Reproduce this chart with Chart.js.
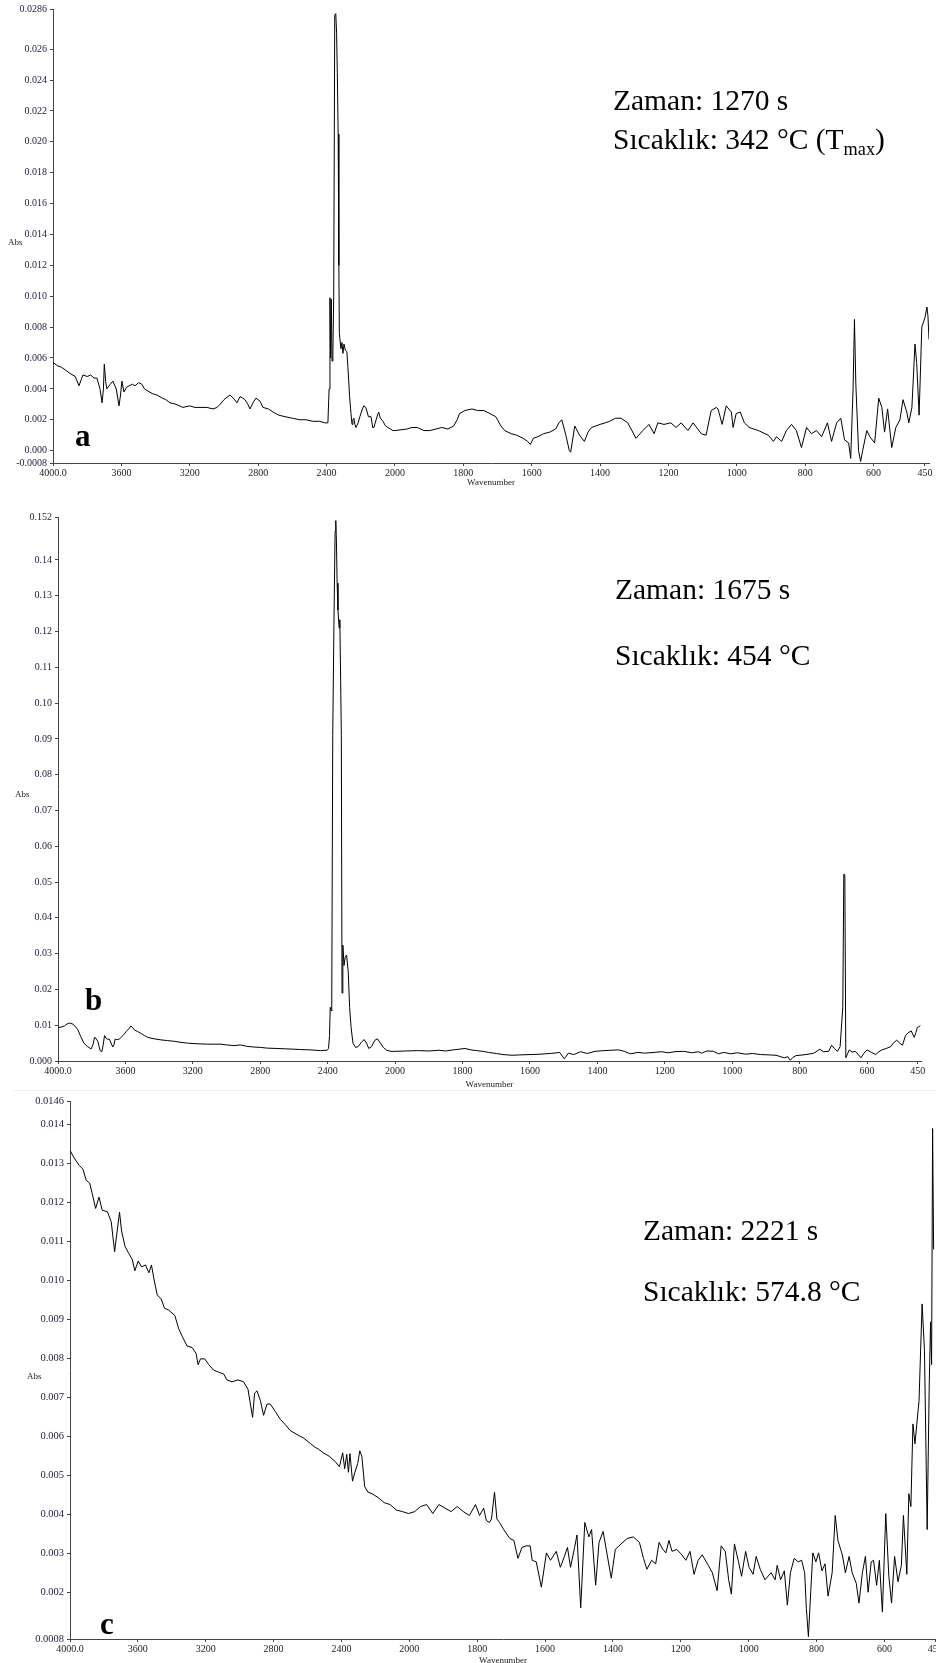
<!DOCTYPE html>
<html>
<head>
<meta charset="utf-8">
<script src="https://cdn.jsdelivr.net/npm/chart.js@4.4.0/dist/chart.umd.min.js"></script>
<style>
  html, body { margin: 0; padding: 0; background: #fff; }
  #page { position: relative; width: 936px; height: 1663px; overflow: hidden; }
  canvas { position: absolute; left: 0; }
  .note { position: absolute; font-family: "Liberation Serif", "Times New Roman", serif; font-size: 29.5px; line-height: 1; white-space: nowrap; color: #000; }
  .sub { font-size: 0.62em; position: relative; top: 0.32em; }
  .tag { position: absolute; font-family: "Liberation Serif", "Times New Roman", serif; font-weight: bold; font-size: 31px; line-height: 1; }
  .abs { position: absolute; font-family: "Liberation Serif", "Times New Roman", serif; font-size: 9px; line-height: 1; color: #222; }
  .sep { position: absolute; left: 14px; top: 1090px; width: 922px; height: 1px; background: #eee; }
</style>
</head>
<body>
<div id="page">
  <canvas id="chartA" width="936" height="490" style="top:0px"></canvas>
  <canvas id="chartB" width="936" height="602" style="top:490px"></canvas>
  <canvas id="chartC" width="950" height="576" style="top:1092px"></canvas>
  <div class="sep"></div>

  <div class="abs" style="left:8px; top:238px">Abs</div>
  <div class="abs" style="left:15px; top:790px">Abs</div>
  <div class="abs" style="left:27px; top:1372px">Abs</div>

  <div class="tag" style="left:75px; top:420px">a</div>
  <div class="tag" style="left:85px; top:984px">b</div>
  <div class="tag" style="left:100px; top:1608px">c</div>

  <div class="note" style="left:613px; top:86px">Zaman: 1270 s</div>
  <div class="note" style="left:613px; top:125px">Sıcaklık: 342 °C (T<span class="sub">max</span>)</div>
  <div class="note" style="left:615px; top:575px">Zaman: 1675 s</div>
  <div class="note" style="left:615px; top:641px">Sıcaklık: 454 °C</div>
  <div class="note" style="left:643px; top:1216px">Zaman: 2221 s</div>
  <div class="note" style="left:643px; top:1277px">Sıcaklık: 574.8 °C</div>
</div>

<script>
// x tick labels (wavenumber, cm-1), shared by the three spectra
var xTickLabels = ['4000.0','3600','3200','2800','2400','2000','1800','1600','1400','1200','1000','800','600','450'];

// spectrum a  (1270 s, 342 C)
var aWave = [4000,3975,3950,3925,3900,3870,3848,3835,3825,3800,3780,3760,3743,3725,3713,3705,3700,3692,3685,3665,3650,3630,3614,3605,3597,3585,3570,3555,3535,3520,3500,3480,3465,3451,3420,3392,3360,3340,3316,3280,3240,3200,3170,3140,3100,3064,3040,3023,3000,2965,2945,2924,2906,2890,2877,2860,2848,2830,2813,2789,2772,2740,2713,2680,2643,2600,2556,2520,2480,2440,2410,2392,
  2385,2380,2376,2372,2368,2363,2358,2352,2346,2341,2337,2332,2328,2325,2316,2310,2304,2298,2290,2281,2275,2265,2257,2251,2246,2240,2234,2228,2215,2205,2190,2182,2170,2155,2140,2130,2123,2110,2099,2095,2085,2070,2055,2042,2025,2012,2000,
  1965,1950,1935,1915,1898,1880,1863,1845,1828,1818,1811,1795,1775,1758,1740,1722,1705,1690,1679,1660,1644,1625,1612,1604,1595,1582,1565,1547,1530,1520,1512,1500,1490,1486,1474,1460,1446,1435,1425,1400,1385,1372,1355,1339,
  1319,1295,1275,1257,1242,1231,1213,1193,1178,1163,1143,1128,1104,1090,1075,1060,1055,1043,1031,1016,1011,1002,990,978,964,937,908,893,884,869,855,840,826,811,796,782,767,752,735,723,708,696,685,673,667,660,656,652,644,638,632,620,611,597,585,576,568,559,547,535,523,514,503,497,488,479,474,467,459,450,444,441,438];
var aAbs = [0.00572,0.0055,0.0054,0.0052,0.0050,0.0048,0.0042,0.0046,0.0049,0.0048,0.0049,0.0047,0.0047,0.0040,0.0031,0.0040,0.0056,0.0045,0.0040,0.0043,0.0045,0.0040,0.0029,0.0036,0.0045,0.0038,0.0041,0.0042,0.0043,0.0042,0.0044,0.0043,0.0040,0.0039,0.0037,0.0036,0.0034,0.0033,0.0031,0.0030,0.0028,0.0029,0.0028,0.0028,0.0028,0.0027,0.0028,0.0030,0.0033,0.0036,0.0034,0.0031,0.0035,0.0034,0.0033,0.0030,0.0027,0.0031,0.0034,0.0032,0.0028,0.0027,0.0025,0.0023,0.0022,0.0021,0.0020,0.0020,0.0019,0.0019,0.0018,0.0018,
  0.0040,0.0099,0.0060,0.0098,0.0058,0.0062,0.0100,0.0282,0.0283,0.0270,0.0245,0.0205,0.0120,0.0076,0.0066,0.0070,0.0063,0.0069,0.0065,0.0064,0.0054,0.0035,0.0024,0.0017,0.0020,0.0021,0.0017,0.0015,0.0018,0.0022,0.0027,0.0029,0.0028,0.0022,0.0022,0.0015,0.0015,0.0020,0.0024,0.0025,0.0021,0.0019,0.0016,0.0015,0.0014,0.0013,0.0013,
  0.0014,0.0015,0.0015,0.0013,0.0013,0.0014,0.0015,0.0014,0.0016,0.0020,0.0024,0.0026,0.0027,0.0026,0.0026,0.0024,0.0022,0.0016,0.0013,0.0011,0.0010,0.0008,0.0006,0.0004,0.0008,0.0009,0.0011,0.0012,0.0014,0.0018,0.0020,0.0010,0.0000,-0.0001,0.0016,0.0010,0.0006,0.0012,0.0015,0.0017,0.0018,0.0019,0.0021,0.0021,
  0.0018,0.0008,0.0013,0.0017,0.0011,0.0018,0.0017,0.0018,0.0015,0.0018,0.0013,0.0018,0.0011,0.0010,0.0026,0.0028,0.0027,0.0017,0.0029,0.0025,0.0015,0.0024,0.0025,0.0018,0.0015,0.0013,0.0010,0.0006,0.0009,0.0006,0.0013,0.0017,0.0013,0.0002,0.0015,0.0011,0.0013,0.0009,0.0018,0.0006,0.0018,0.0021,0.0007,0.0005,-0.0005,0.0040,0.0085,0.0043,0.0000,-0.0007,0.0000,0.0013,0.0009,0.0005,0.0034,0.0028,0.0012,0.0027,0.0002,0.0015,0.0020,0.0033,0.0025,0.0018,0.0028,0.0069,0.0057,0.0023,0.0080,0.0086,0.0093,0.0087,0.0072];
var aYLabels = ['-0.0008','0.000','0.002','0.004','0.006','0.008','0.010','0.012','0.014','0.016','0.018','0.020','0.022','0.024','0.026','0.0286'];

// spectrum b  (1675 s, 454 C)
var bWave = [4000,3980,3961,3945,3931,3911,3895,3882,3865,3846,3825,3803,3793,3783,3774,3764,3756,3750,3740,3732,3724,3716,3708,3695,3685,3675,3668,3661,3648,3636,3626,3616,3606,3596,3580,3567,3557,3547,3527,3507,3487,3468,3430,3389,3350,3310,3270,3232,3170,3113,3070,3034,3000,2956,2917,2880,2838,2800,2759,2700,2650,2600,2562,2500,2443,2403,
  2395,2389,2385,2380,2376,2370,2363,2356,2352,2348,2344,2339,2332,2328,2323,2319,2315,2310,2303,2296,2288,2278,2270,2261,2250,2235,2220,2200,2184,2170,2156,2140,2120,2105,2090,2070,2050,2025,2000,
  1970,1933,1900,1870,1850,1828,1810,1793,1775,1758,1740,1723,1700,1680,1653,1630,1600,1570,1540,1520,1512,1498,1486,1470,1450,1430,1407,1380,1360,1337,1320,1302,1280,1260,1232,1210,1190,1170,1144,1120,1100,1091,1075,1056,1040,1025,1004,985,960,940,916,890,870,846,835,828,820,811,790,775,758,748,740,730,714,705,697,688,680,672,669,666,663,658,653,644,635,626,618,609,600,587,574,565,556,543,530,520,512,503,495,486,478,469,460,455,451,446,442];
var bAbs = [0.0093,0.0095,0.0098,0.0104,0.0106,0.0103,0.0095,0.0087,0.0068,0.0050,0.0040,0.0034,0.0045,0.0066,0.0063,0.0055,0.0040,0.0029,0.0026,0.0045,0.0071,0.0064,0.0061,0.0061,0.0050,0.0039,0.0045,0.0061,0.0060,0.0061,0.0066,0.0071,0.0076,0.0082,0.0090,0.0098,0.0093,0.0087,0.0082,0.0077,0.0071,0.0066,0.0062,0.0059,0.0057,0.0055,0.0052,0.0050,0.0048,0.0047,0.0047,0.0047,0.0045,0.0043,0.0045,0.0041,0.0039,0.0038,0.0036,0.0035,0.0034,0.0033,0.0032,0.0031,0.0029,0.0030,
  0.0035,0.0071,0.0150,0.0142,0.0140,0.0910,0.1220,0.1480,0.1510,0.1450,0.1335,0.1260,0.1210,0.1233,0.1060,0.0910,0.0190,0.0324,0.0267,0.0290,0.0296,0.0249,0.0150,0.0093,0.0050,0.0038,0.0040,0.0052,0.0060,0.0050,0.0035,0.0040,0.0058,0.0062,0.0052,0.0038,0.0030,0.0027,0.0027,
  0.0028,0.0029,0.0028,0.0030,0.0028,0.0031,0.0033,0.0035,0.0031,0.0029,0.0027,0.0024,0.0021,0.0018,0.0016,0.0017,0.0018,0.0019,0.0021,0.0023,0.0024,0.0006,0.0022,0.0018,0.0026,0.0021,0.0027,0.0029,0.0030,0.0031,0.0027,0.0020,0.0024,0.0022,0.0024,0.0026,0.0023,0.0026,0.0027,0.0023,0.0026,0.0022,0.0028,0.0027,0.0020,0.0024,0.0020,0.0023,0.0019,0.0021,0.0018,0.0017,0.0016,0.0009,0.0012,0.0002,0.0010,0.0015,0.0017,0.0019,0.0022,0.0028,0.0033,0.0026,0.0027,0.0044,0.0035,0.0027,0.0040,0.0150,0.0522,0.0520,0.0009,0.0020,0.0031,0.0025,0.0027,0.0018,0.0009,0.0022,0.0031,0.0024,0.0018,0.0026,0.0031,0.0035,0.0040,0.0052,0.0058,0.0050,0.0044,0.0071,0.0079,0.0084,0.0066,0.0080,0.0093,0.0096,0.0099];
var bYLabels = ['0.000','0.01','0.02','0.03','0.04','0.05','0.06','0.07','0.08','0.09','0.10','0.11','0.12','0.13','0.14','0.152'];

// spectrum c  (2221 s, 574.8 C)
var cWave = [4000,3976,3947,3924,3904,3884,3869,3849,3829,3810,3780,3757,3737,3722,3708,3696,3676,3653,3633,3618,3598,3578,3555,3535,3520,3504,3486,3463,3443,3418,3382,3359,3339,3310,3280,3257,3245,3231,3206,3182,3153,3124,3094,3075,3045,3010,2977,2951,2937,2924,2912,2898,2878,2859,2839,2820,2790,2761,2731,2702,2663,2624,2584,2555,2535,2508,2472,2436,2412,2393,2381,2369,2359,2350,2335,2321,2304,2292,2280,2263,2244,2220,2184,2148,2113,2077,2041,2005,
  1984,1967,1949,1931,1913,1895,1877,1859,1841,1823,1805,1793,1781,1773,1764,1758,1749,1742,1734,1722,1704,1692,1680,1668,1656,1644,1638,1626,1611,1596,1584,1567,1555,1543,1534,1525,1513,1506,1495,1483,1471,1463,1451,1441,1429,1417,1405,1393,1376,1358,1340,1322,1310,1300,1286,1274,1264,1253,1244,1235,1226,1212,1197,1185,1173,1161,1149,1137,1119,1107,1093,1081,1069,1059,1051,1042,1030,1021,1009,999,987,978,966,952,934,922,916,906,895,886,877,866,854,844,835,830,824,817,811,802,794,784,775,766,754,745,737,724,715,704,695,683,675,665,656,648,639,632,623,615,606,596,587,579,570,560,550,544,534,528,522,516,510,498,489,482,474,468,464,461,458,455];
var cAbs = [0.01334,0.01315,0.01296,0.01286,0.01257,0.0125,0.01223,0.01185,0.01214,0.0118,0.01177,0.01151,0.01074,0.01127,0.01175,0.01127,0.01088,0.01069,0.01054,0.01025,0.0105,0.01035,0.0104,0.0102,0.0104,0.01001,0.00963,0.00953,0.00929,0.00924,0.0091,0.00876,0.00857,0.00832,0.00828,0.00813,0.00784,0.00799,0.00799,0.00784,0.0077,0.00765,0.0076,0.00745,0.0074,0.00745,0.0074,0.00721,0.00683,0.00649,0.00711,0.00717,0.00692,0.00654,0.00683,0.00683,0.00664,0.00644,0.0063,0.00615,0.00605,0.00596,0.00582,0.00572,0.00567,0.00558,0.00549,0.00535,0.00522,0.00558,0.00517,0.00554,0.00508,0.00556,0.00485,0.00508,0.00531,0.00563,0.00549,0.00471,0.00457,0.00453,0.00443,0.0043,0.00425,0.00411,0.00407,0.00402,
  0.00407,0.0042,0.00425,0.00402,0.00425,0.00416,0.00407,0.0042,0.00407,0.00397,0.00425,0.00397,0.00416,0.00384,0.00379,0.00388,0.00457,0.00388,0.00379,0.00361,0.00338,0.00333,0.00287,0.00315,0.00319,0.00319,0.00282,0.00278,0.00213,0.00301,0.00282,0.00305,0.00264,0.00292,0.00315,0.00264,0.00315,0.00347,0.0016,0.00379,0.00342,0.00361,0.00218,0.00328,0.00356,0.00296,0.00236,0.0031,0.00324,0.00338,0.00342,0.00328,0.00287,0.00259,0.00282,0.00273,0.00328,0.0031,0.00301,0.00333,0.00305,0.0031,0.00296,0.00282,0.00305,0.00246,0.00282,0.00296,0.00269,0.0025,0.00204,0.00319,0.00305,0.00232,0.00195,0.00324,0.00278,0.00241,0.00305,0.00264,0.00246,0.00292,0.00259,0.00232,0.0025,0.00232,0.00269,0.00232,0.00255,0.00167,0.0025,0.00287,0.00278,0.00282,0.0025,0.00158,0.00086,0.00204,0.00301,0.00278,0.00301,0.00255,0.00273,0.0019,0.0025,0.00397,0.00333,0.00296,0.0025,0.00292,0.0025,0.00223,0.00172,0.0025,0.00292,0.002,0.00278,0.00282,0.00218,0.00282,0.00149,0.00402,0.00241,0.00172,0.00292,0.00227,0.00269,0.00397,0.00246,0.00453,0.0042,0.00632,0.00581,0.00692,0.0094,0.00821,0.00361,0.00729,0.00894,0.00784,0.0139,0.0108];
var cYLabels = ['0.0008','0.002','0.003','0.004','0.005','0.006','0.007','0.008','0.009','0.010','0.011','0.012','0.013','0.014','0.0146'];

// the spectrometer plots 4000-2000 at half the scale of 2000-450
function splitPos(w) {
    return w >= 2000 ? 4000 - w : 2000 + (2000 - w) * 2;
}

class SplitScale extends Chart.LinearScale {
    getPixelForValue(value) {
        return this.getPixelForDecimal(splitPos(value) / splitPos(this.min));
    }
    getValueForPixel(pixel) {
        var p = this.getDecimalForPixel(pixel) * splitPos(this.min);
        return p <= 2000 ? 4000 - p : 2000 - (p - 2000) / 2;
    }
}
SplitScale.id = 'split';
SplitScale.defaults = {};
Chart.register(SplitScale);

var serif = '"Liberation Serif", "Times New Roman", serif';

function buildSpectrum(canvasId, wave, abs, yLabels, cfg) {
    var ctx = document.getElementById(canvasId).getContext('2d');
    var points = wave.map(function (w, i) { return {x: w, y: abs[i]}; });
    var xValues = xTickLabels.map(function (s) { return parseFloat(s); });
    var yValues = yLabels.map(function (s) { return parseFloat(s); });
    return new Chart(ctx, {
        type: 'line',
        data: {
            datasets: [{
                data: points,
                borderColor: '#000',
                borderWidth: 1,
                pointRadius: 0,
                tension: 0,
                fill: false
            }]
        },
        options: {
            animation: false,
            responsive: false,
            events: [],
            layout: { padding: { top: cfg.padTop, right: cfg.padRight, left: 0, bottom: 0 } },
            plugins: { legend: { display: false }, tooltip: { enabled: false } },
            scales: {
                x: {
                    type: 'split',
                    bounds: 'data',
                    min: cfg.xMin,
                    max: 4000,
                    border: { display: true, color: '#444', width: 1 },
                    grid: { display: true, drawOnChartArea: false, drawTicks: true, tickLength: 3, color: '#444' },
                    ticks: {
                        autoSkip: false, maxRotation: 0, minRotation: 0, padding: 1,
                        color: '#222', font: { family: serif, size: 10 },
                        callback: function (v, i) { return xTickLabels[i]; }
                    },
                    title: { display: true, text: 'Wavenumber', color: '#222', font: { family: serif, size: 9 }, padding: { top: 0, bottom: 2 } },
                    afterBuildTicks: function (s) { s.ticks = xValues.map(function (v) { return {value: v}; }); },
                    afterFit: function (s) { s.height = cfg.xHeight; }
                },
                y: {
                    bounds: 'data',
                    min: yValues[0],
                    max: yValues[yValues.length - 1],
                    border: { display: true, color: '#444', width: 1 },
                    grid: { display: true, drawOnChartArea: false, drawTicks: true, tickLength: 3, color: '#444' },
                    ticks: {
                        autoSkip: false, padding: 3,
                        color: '#1c1c3c', font: { family: serif, size: cfg.yFont },
                        callback: function (v, i) { return yLabels[i]; }
                    },
                    afterBuildTicks: function (s) { s.ticks = yValues.map(function (v) { return {value: v}; }); },
                    afterFit: function (s) { s.width = cfg.yWidth; }
                }
            }
        }
    });
}

buildSpectrum('chartA', aWave, aAbs, aYLabels, {padTop: 8, padRight: 7, xHeight: 27, yWidth: 53, xMin: 438, yFont: 10});
buildSpectrum('chartB', bWave, bAbs, bYLabels, {padTop: 27, padRight: 15, xHeight: 31, yWidth: 58, xMin: 440, yFont: 10});
buildSpectrum('chartC', cWave, cAbs, cYLabels, {padTop: 7, padRight: 14, xHeight: 29, yWidth: 70, xMin: 448, yFont: 10.5});
</script>
</body>
</html>
